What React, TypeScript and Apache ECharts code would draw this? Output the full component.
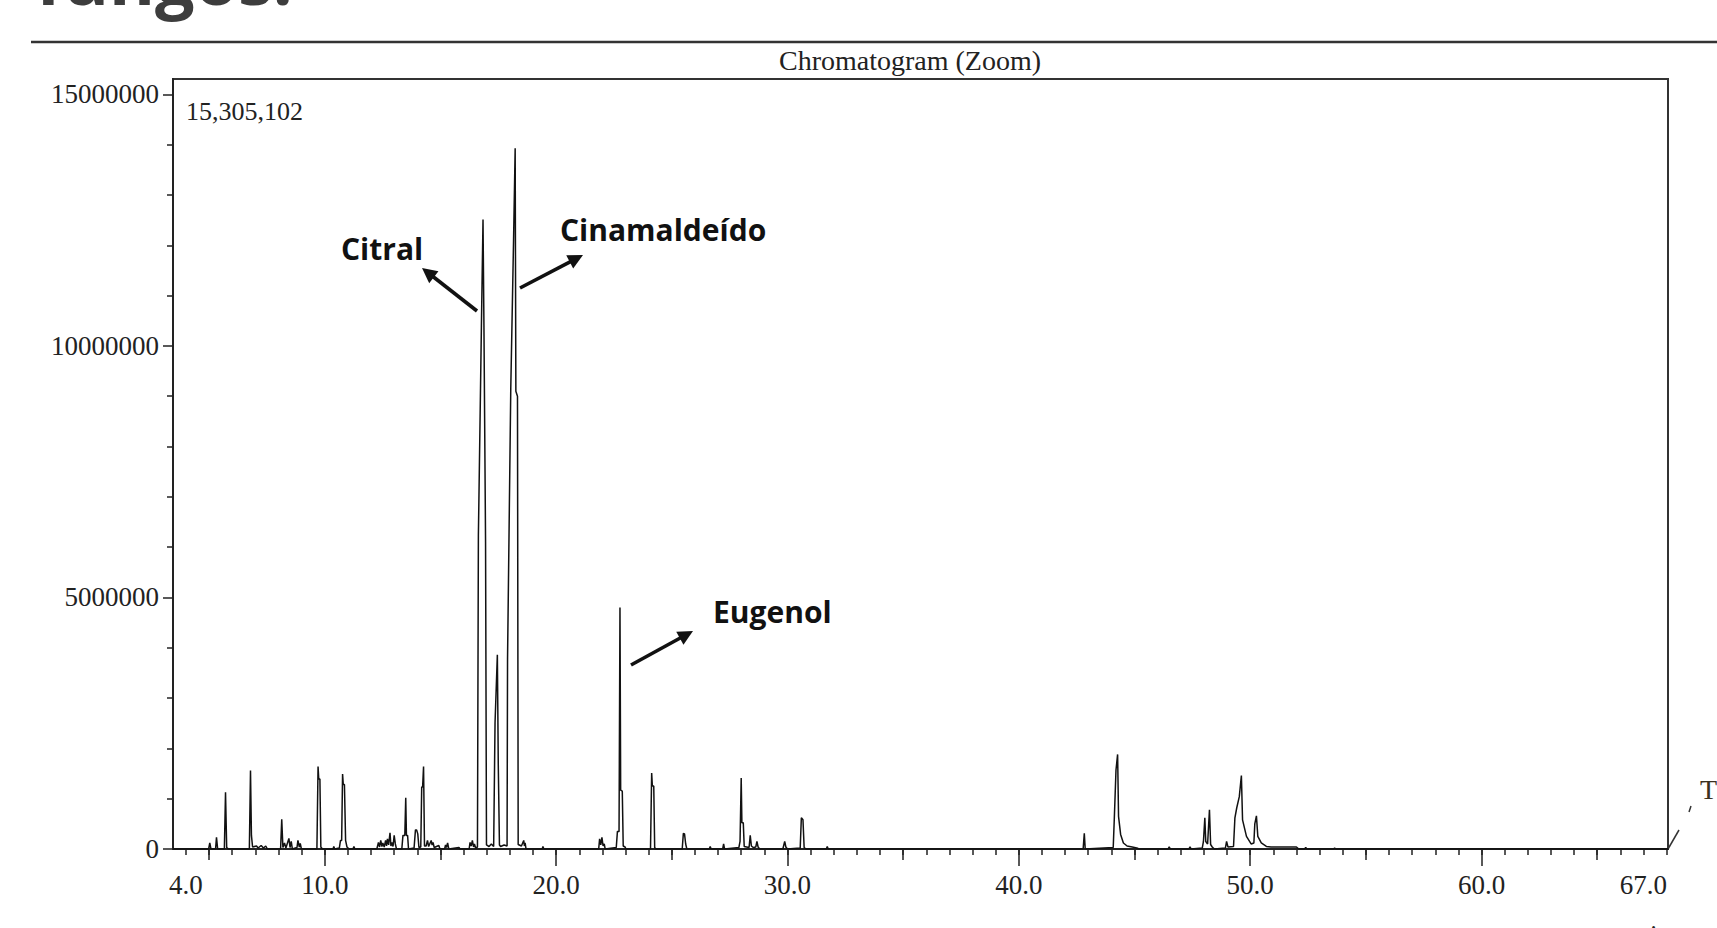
import React, { useEffect, useRef } from "react";
import * as echarts from "echarts";

const W = 1717;
const H = 928;

// Retention time (min) and detector intensity (counts) of the trace
const retentionTimes = [
  3.44, 4.98, 5.03, 5.08, 5.28, 5.32, 5.37, 5.66, 5.71, 5.76, 5.84,
  6.74, 6.79, 6.83, 6.88, 7.05, 7.12, 7.25, 7.35, 7.45, 7.52,
  8.09, 8.14, 8.19, 8.26, 8.32, 8.45, 8.5, 8.55, 8.6, 8.8, 8.84, 8.9, 8.94, 8.99,
  9.66, 9.71, 9.74, 9.79, 9.83, 9.9, 10.36, 10.39, 10.43,
  10.63, 10.68, 10.73, 10.77, 10.8, 10.85, 10.9, 10.96, 11.05, 11.22, 11.26, 11.3,
  12.25, 12.32, 12.37, 12.42, 12.47, 12.51, 12.57, 12.63, 12.67, 12.71, 12.76, 12.82,
  12.86, 12.9, 12.95, 13.0, 13.05, 13.1,
  13.33, 13.38, 13.46, 13.5, 13.53, 13.58, 13.62,
  13.86, 13.92, 13.97, 14.02, 14.07, 14.15, 14.19, 14.23, 14.27, 14.31,
  14.38, 14.44, 14.49, 14.6, 14.64, 14.68, 14.73, 14.93, 14.98,
  15.18, 15.22, 15.26, 15.31, 15.36, 15.8, 15.85,
  16.24, 16.28, 16.33, 16.38, 16.43, 16.47, 16.52,
  16.6, 16.64, 16.77, 16.84, 16.88, 16.95, 16.99, 17.1, 17.2, 17.3,
  17.36, 17.46, 17.5, 17.55, 17.6, 17.75,
  17.88, 17.9, 18.04, 18.16, 18.23, 18.26, 18.33, 18.36,
  18.5, 18.6, 18.63, 18.66, 18.7, 19.4, 19.43, 19.47,
  21.84, 21.88, 21.93, 21.98, 22.03, 22.08, 22.12,
  22.6, 22.65, 22.72, 22.76, 22.79, 22.86, 22.9, 22.98, 23.02,
  24.08, 24.13, 24.16, 24.22, 24.26, 24.3,
  25.45, 25.5, 25.55, 25.6, 25.65, 26.62, 26.66, 26.7, 27.2, 27.24, 27.28,
  27.9, 27.95, 28.0, 28.03, 28.09, 28.13, 28.34, 28.39, 28.44, 28.52,
  28.63, 28.68, 28.73, 28.8, 29.8, 29.88, 29.93, 30.0,
  30.55, 30.6, 30.67, 30.72, 30.8, 31.68, 31.72, 31.76,
  42.78, 42.83, 42.87,
  44.08, 44.13, 44.2, 44.27, 44.31, 44.4, 44.52, 44.68, 44.9, 45.1, 45.2,
  46.45, 46.5, 46.55, 47.35, 47.4, 47.45,
  47.93, 47.98, 48.04, 48.08, 48.16, 48.24, 48.29, 48.36, 48.45,
  48.93, 48.98, 49.04, 49.28, 49.34, 49.42, 49.53, 49.62, 49.67, 49.84,
  50.04, 50.16, 50.2, 50.27, 50.33, 50.48, 50.7, 50.9, 51.5, 52.0, 52.1,
  52.35, 52.4, 52.45, 53.6, 53.65, 53.7, 68.06,
];

const intensities = [
  0, 0, 120000, 0, 0, 230000, 0, 0, 1130000, 30000, 0,
  0, 1560000, 270000, 40000, 60000, 20000, 70000, 20000, 60000, 0,
  0, 590000, 30000, 120000, 20000, 210000, 30000, 150000, 0, 30000, 170000, 40000, 110000, 0,
  0, 1640000, 1390000, 1390000, 40000, 0, 0, 50000, 0,
  20000, 170000, 170000, 1490000, 1280000, 1280000, 170000, 40000, 0, 0, 50000, 0,
  0, 130000, 40000, 170000, 50000, 120000, 40000, 170000, 60000, 200000, 80000, 320000,
  60000, 130000, 50000, 270000, 100000, 0,
  0, 270000, 270000, 1020000, 270000, 270000, 0,
  20000, 380000, 380000, 300000, 30000, 40000, 1230000, 1230000, 1640000, 60000,
  60000, 170000, 50000, 170000, 80000, 130000, 30000, 70000, 0,
  0, 80000, 30000, 120000, 0, 30000, 0,
  0, 130000, 60000, 170000, 40000, 100000, 20000,
  40000, 6230000, 10370000, 12510000, 10400000, 6100000, 80000, 50000, 100000, 50000,
  2510000, 3860000, 1670000, 80000, 50000, 80000,
  60000, 3770000, 9160000, 12090000, 13930000, 9100000, 9000000, 90000,
  60000, 170000, 60000, 120000, 0, 0, 50000, 0,
  0, 200000, 80000, 230000, 60000, 100000, 0,
  30000, 350000, 350000, 4800000, 1170000, 1150000, 60000, 40000, 0,
  0, 1510000, 1250000, 1250000, 30000, 0,
  0, 310000, 300000, 100000, 0, 0, 50000, 0, 0, 100000, 0,
  30000, 150000, 1410000, 520000, 520000, 50000, 30000, 270000, 60000, 30000,
  40000, 150000, 40000, 0, 0, 150000, 40000, 0,
  20000, 620000, 580000, 30000, 0, 0, 50000, 0,
  0, 310000, 0,
  30000, 640000, 1570000, 1880000, 650000, 290000, 120000, 60000, 40000, 20000, 0,
  0, 40000, 0, 0, 40000, 0,
  20000, 150000, 620000, 150000, 100000, 780000, 90000, 40000, 0,
  20000, 150000, 40000, 50000, 620000, 820000, 1040000, 1460000, 580000, 250000,
  100000, 120000, 500000, 660000, 250000, 120000, 50000, 40000, 40000, 40000, 0,
  0, 30000, 0, 0, 20000, 0, 0,
];

const xMin = 3.44;
const xMax = 68.06;
const yMax = 15305102;

const xLabelValues = [4, 10, 20, 30, 40, 50, 60, 67];
const xMinuteTicks = [
  4, 5, 6, 7, 8, 9, 10, 11, 12, 13, 14, 15, 16, 17, 18, 19, 20, 21, 22, 23, 24, 25,
  26, 27, 28, 29, 30, 31, 32, 33, 34, 35, 36, 37, 38, 39, 40, 41, 42, 43, 44, 45, 46,
  47, 48, 49, 50, 51, 52, 53, 54, 55, 56, 57, 58, 59, 60, 61, 62, 63, 64, 65, 66, 67, 68,
];
const xFiveTicks = [5, 15, 25, 35, 45, 55, 65];
const xTenTicks = [10, 20, 30, 40, 50, 60];
const yLabelValues = [0, 5000000, 10000000, 15000000];
const yMinorTicks = [
  1000000, 2000000, 3000000, 4000000, 6000000, 7000000, 8000000, 9000000,
  11000000, 12000000, 13000000, 14000000,
];

const chartTitle = "Chromatogram (Zoom)";
const maxLabel = "15,305,102";
const annotations = [
  { text: "Citral", x: 341, y: 248, from: [477, 311], to: [422, 268] },
  { text: "Cinamaldeído", x: 560, y: 229, from: [520, 288], to: [583, 255] },
  { text: "Eugenol", x: 713, y: 611, from: [631, 665], to: [693, 631] },
];

const SERIF = "'Liberation Serif', 'Times New Roman', serif";
const SANS = "'Open Sans', 'Noto Sans', sans-serif";

function textEl(text: string, x: number, y: number, size: number, family: string, weight: string, fill: string, align = "left", valign = "middle") {
  return {
    type: "text",
    x,
    y,
    silent: true,
    style: {
      text,
      fontSize: size,
      fontFamily: family,
      fontWeight: weight,
      fill,
      align,
      verticalAlign: valign,
      textAlign: align,
      textVerticalAlign: valign,
    },
  };
}

function arrowEls(from: number[], to: number[]) {
  const dx = to[0] - from[0];
  const dy = to[1] - from[1];
  const len = Math.sqrt(dx * dx + dy * dy);
  const ux = dx / len;
  const uy = dy / len;
  const L = 15;
  const w = 7.5;
  const bx = to[0] - ux * L;
  const by = to[1] - uy * L;
  const nx = -uy;
  const ny = ux;
  return [
    {
      type: "line",
      silent: true,
      shape: { x1: from[0], y1: from[1], x2: bx + ux * 2, y2: by + uy * 2 },
      style: { stroke: "#111", lineWidth: 3.6, lineCap: "butt" },
    },
    {
      type: "polygon",
      silent: true,
      shape: { points: [[to[0], to[1]], [bx + nx * w, by + ny * w], [bx - nx * w, by - ny * w]] },
      style: { fill: "#111" },
    },
  ];
}

export default function App() {
  const ref = useRef<HTMLDivElement>(null);

  useEffect(() => {
    if (!ref.current) return;
    const chart = echarts.init(ref.current, undefined, { renderer: "svg" });
    const data = retentionTimes.map((t, i) => [t, intensities[i]]);

    const xBase = {
      type: "value",
      min: xMin,
      max: xMax,
      position: "bottom",
      splitLine: { show: false },
    };
    const yBase = {
      type: "value",
      min: 0,
      max: yMax,
      position: "left",
      splitLine: { show: false },
    };

    const graphic: any[] = [
      // slide heading fragment and separator line
      textEl("fungos.", 36, -22, 70, SANS, "bold", "#3d3d3d"),
      {
        type: "line",
        silent: true,
        shape: { x1: 31, y1: 42, x2: W, y2: 42 },
        style: { stroke: "#333", lineWidth: 2.5 },
      },
      textEl(chartTitle, 910, 60, 28, SERIF, "normal", "#222", "center"),
      textEl(maxLabel, 186, 111, 26, SERIF, "normal", "#222"),
      // temperature trace fragment at the right edge
      {
        type: "polyline",
        silent: true,
        shape: { points: [[1668, 849], [1679, 830]] },
        style: { stroke: "#333", lineWidth: 1.5, fill: null },
      },
      {
        type: "line",
        silent: true,
        shape: { x1: 1689, y1: 812, x2: 1691, y2: 806 },
        style: { stroke: "#333", lineWidth: 1.5 },
      },
      textEl("T", 1700, 789, 28, SERIF, "normal", "#3a3020"),
      textEl("min", 1650, 921, 27, SERIF, "normal", "#222", "center", "top"),
    ];
    annotations.forEach((a) => {
      graphic.push(textEl(a.text, a.x, a.y, 30, SANS, "bold", "#111"));
      arrowEls(a.from, a.to).forEach((e) => graphic.push(e));
    });

    chart.setOption({
      animation: false,
      backgroundColor: "#ffffff",
      grid: {
        left: 173,
        right: W - 1668,
        top: 79,
        bottom: H - 849,
        show: true,
        borderColor: "#333",
        borderWidth: 2,
        backgroundColor: "transparent",
        containLabel: false,
      },
      xAxis: [
        {
          ...xBase,
          axisLine: { show: true, onZero: false, lineStyle: { color: "#222", width: 2 } },
          axisTick: { show: true, customValues: xMinuteTicks, length: 6, lineStyle: { color: "#222", width: 1.5 } },
          axisLabel: {
            show: true,
            customValues: xLabelValues,
            margin: 22,
            fontFamily: SERIF,
            fontSize: 27,
            color: "#222",
            formatter: (v: number) => v.toFixed(1),
          },
        },
        {
          ...xBase,
          axisLine: { show: false, onZero: false },
          axisTick: { show: true, customValues: xFiveTicks, length: 11, lineStyle: { color: "#222", width: 1.5 } },
          axisLabel: { show: false },
        },
        {
          ...xBase,
          axisLine: { show: false, onZero: false },
          axisTick: { show: true, customValues: xTenTicks, length: 17, lineStyle: { color: "#222", width: 1.5 } },
          axisLabel: { show: false },
        },
      ],
      yAxis: [
        {
          ...yBase,
          axisLine: { show: true, onZero: false, lineStyle: { color: "#222", width: 2 } },
          axisTick: { show: true, customValues: yLabelValues, length: 10, lineStyle: { color: "#222", width: 1.5 } },
          axisLabel: {
            show: true,
            customValues: yLabelValues,
            margin: 14,
            fontFamily: SERIF,
            fontSize: 27,
            color: "#222",
            formatter: (v: number) => String(v),
          },
        },
        {
          ...yBase,
          axisLine: { show: false, onZero: false },
          axisTick: { show: true, customValues: yMinorTicks, length: 6, lineStyle: { color: "#222", width: 1.5 } },
          axisLabel: { show: false },
        },
      ],
      series: [
        {
          type: "line",
          xAxisIndex: 0,
          yAxisIndex: 0,
          data,
          showSymbol: false,
          symbol: "none",
          lineStyle: { color: "#111", width: 1.5 },
          silent: true,
          z: 3,
        },
      ],
      graphic,
    });

    return () => chart.dispose();
  }, []);

  return (
    <div
      ref={ref}
      style={{ position: "absolute", left: 0, top: 0, width: W, height: H, background: "#fff" }}
    />
  );
}
